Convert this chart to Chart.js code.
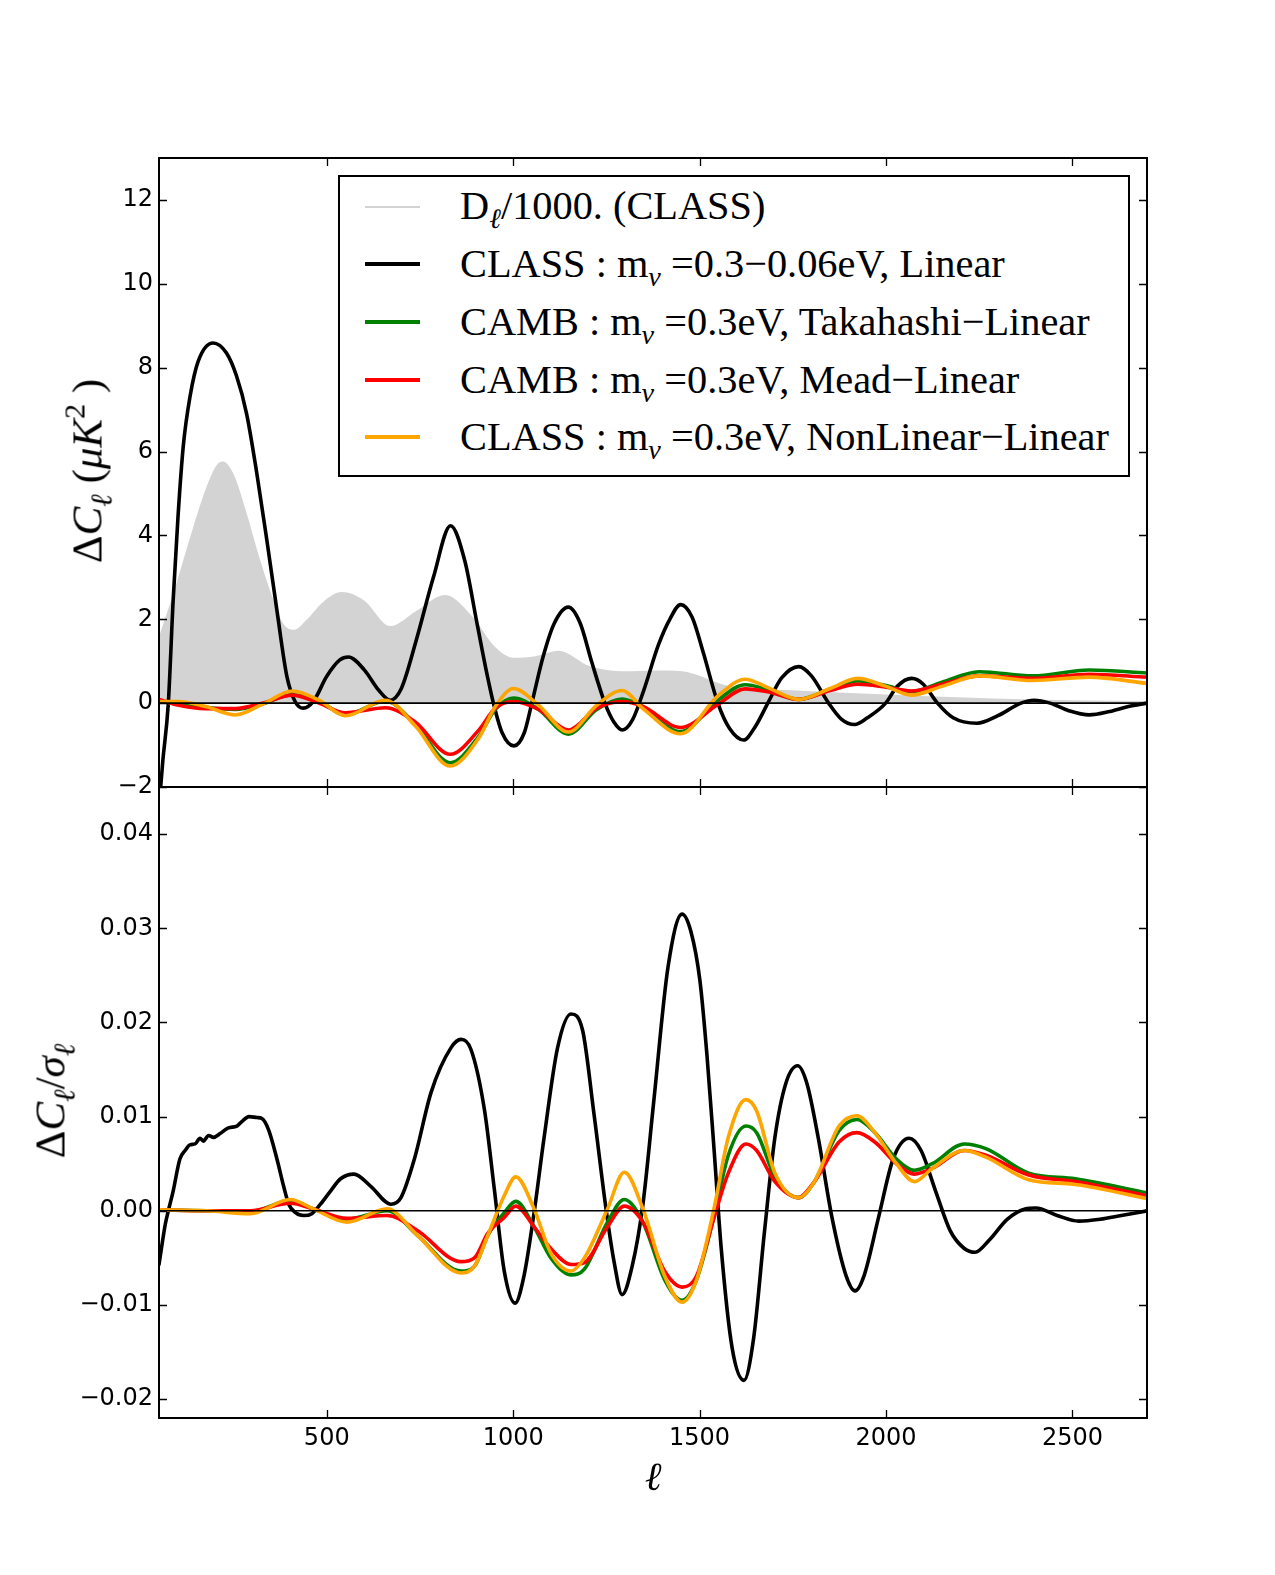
<!DOCTYPE html>
<html>
<head>
<meta charset="utf-8">
<title>Delta C_ell</title>
<script src="https://cdn.jsdelivr.net/npm/chart.js@4.4.0/dist/chart.umd.min.js"></script>
<style>
html,body{margin:0;padding:0;background:#fff;}
#wrap{position:relative;width:1275px;height:1575px;overflow:hidden;background:#fff;}
#wrap canvas{position:absolute;left:0;top:0;}
.serif{font-family:"Liberation Serif","DejaVu Serif",serif;color:#000;position:absolute;white-space:nowrap;line-height:1;}
.serif sub{font-size:0.7em;vertical-align:-0.32em;font-style:italic;line-height:0;}
.serif sup{font-size:0.7em;vertical-align:0.55em;line-height:0;}
.serif i{font-style:italic;}
#legendBox{position:absolute;left:338px;top:175px;width:788px;height:298px;border:2px solid #000;background:#fff;}
.sw{position:absolute;left:365px;width:55px;}
.rot{position:absolute;transform:translate(-50%,-50%) rotate(-90deg);}
</style>
</head>
<body>
<div id="wrap">
  <canvas id="top" width="1275" height="1575"></canvas>
  <canvas id="bot" width="1275" height="1575"></canvas>
  <div id="legendBox"></div>
  <div id="legendRows"></div>
  <div class="serif rot" id="ylabTop" style="left:87px;top:471px;font-size:43px;">Δ<i>C</i><sub>ℓ</sub> (<i>μK</i><sup>2</sup> )</div>
  <div class="serif rot" id="ylabBot" style="left:50px;top:1101px;font-size:43px;">Δ<i>C</i><sub>ℓ</sub>/<i>σ</i><sub>ℓ</sub></div>
  <div class="serif" id="xlab" style="left:653px;top:1477px;font-size:40px;transform:translate(-50%,-50%);"><i>ℓ</i></div>
</div>
<script>
// ---------------- DATA ----------------
const xTicks = [500, 1000, 1500, 2000, 2500];
const topTicks = [-2, 0, 2, 4, 6, 8, 10, 12];
const botTicks = [-0.02, -0.01, 0.00, 0.01, 0.02, 0.03, 0.04];

const legendLabels = [
  'D<sub>ℓ</sub>/1000. (CLASS)',
  'CLASS : m<sub>ν</sub> =0.3−0.06eV, Linear',
  'CAMB : m<sub>ν</sub> =0.3eV, Takahashi−Linear',
  'CAMB : m<sub>ν</sub> =0.3eV, Mead−Linear',
  'CLASS : m<sub>ν</sub> =0.3eV, NonLinear−Linear'
];

// D_ell / 1000 (CLASS) - grey filled area, top panel
const grayL = [50, 88, 115, 142, 178, 205, 221, 249, 285, 321, 357, 383, 412, 446, 491, 540, 600, 670, 740, 817, 893, 947, 1001, 1060, 1121, 1206, 1296, 1377, 1453, 1490, 1560, 1616, 1712, 1810, 1903, 2094, 2287, 2500, 2700];
const grayV = [1.59, 2.6, 3.4, 4.2, 5.17, 5.68, 5.76, 5.48, 4.53, 3.42, 2.46, 1.9, 1.75, 1.99, 2.42, 2.65, 2.45, 1.84, 2.2, 2.58, 2.04, 1.38, 1.08, 1.12, 1.25, 0.88, 0.76, 0.78, 0.76, 0.68, 0.45, 0.37, 0.32, 0.28, 0.24, 0.17, 0.11, 0.07, 0.05];

// CLASS m_nu 0.3-0.06 eV, Linear (black), top panel
const blackTopL = [50, 60, 75, 88, 101, 115, 133, 155, 195, 231, 258, 285, 312, 339, 366, 393, 415, 437, 464, 500, 535, 558, 600, 640, 670, 700, 740, 786, 832, 870, 903, 930, 947, 970, 1002, 1030, 1050, 1080, 1110, 1148, 1180, 1210, 1246, 1270, 1293, 1320, 1350, 1390, 1420, 1449, 1480, 1510, 1549, 1580, 1618, 1650, 1683, 1720, 1766, 1800, 1846, 1880, 1916, 1950, 1999, 2030, 2069, 2100, 2138, 2180, 2244, 2300, 2362, 2397, 2440, 2490, 2545, 2600, 2650, 2700];
const blackTopV = [-2.5, -1.4, 0, 2.46, 4.45, 6.12, 7.3, 8.15, 8.59, 8.35, 7.8, 6.9, 5.5, 3.9, 2.23, 0.64, 0.04, -0.12, 0.04, 0.64, 1.03, 1.10, 0.8, 0.3, 0.07, 0.35, 1.5, 3.0, 4.23, 3.4, 1.9, 0.68, 0, -0.7, -1.02, -0.7, 0, 1.1, 1.9, 2.29, 1.9, 1.0, 0, -0.45, -0.64, -0.4, 0.3, 1.4, 2.0, 2.35, 2.05, 1.2, 0, -0.6, -0.88, -0.55, 0, 0.6, 0.87, 0.65, 0, -0.38, -0.51, -0.35, 0, 0.4, 0.59, 0.45, 0, -0.35, -0.48, -0.3, 0, 0.07, 0, -0.18, -0.28, -0.2, -0.08, 0];

// coloured differences, top panel (shared multipole grid)
const colTopL = [50, 103, 175, 255, 327, 408, 479, 550, 657, 737, 831, 907, 952, 1001, 1068, 1148, 1224, 1292, 1348, 1449, 1549, 1622, 1683, 1766, 1850, 1924, 2000, 2068, 2150, 2250, 2393, 2545, 2700];
const greenTopV  = [0.03, 0.0, -0.1, -0.15, -0.02, 0.2, 0.05, -0.28, 0.05, -0.5, -1.42, -0.8, -0.15, 0.12, -0.15, -0.74, -0.15, 0.1, -0.08, -0.68, 0.07, 0.44, 0.32, 0.09, 0.33, 0.53, 0.42, 0.27, 0.5, 0.75, 0.65, 0.79, 0.72];
const redTopV    = [0.09, -0.05, -0.13, -0.13, 0.0, 0.19, 0.0, -0.23, -0.11, -0.45, -1.22, -0.65, -0.12, 0.04, -0.15, -0.64, -0.12, 0.04, -0.08, -0.58, -0.03, 0.34, 0.27, 0.09, 0.3, 0.45, 0.38, 0.29, 0.45, 0.65, 0.59, 0.69, 0.62];
const orangeTopV = [0.04, 0.04, -0.08, -0.28, -0.03, 0.29, 0.07, -0.3, 0.07, -0.54, -1.5, -0.84, -0.08, 0.35, -0.05, -0.69, -0.05, 0.3, -0.13, -0.73, 0.17, 0.57, 0.37, 0.09, 0.35, 0.59, 0.4, 0.19, 0.4, 0.65, 0.54, 0.62, 0.47];

// bottom panel: Delta C_ell / sigma_ell
const blackBotL = [50, 67, 75, 88, 106, 120, 133, 147, 160, 169, 183, 196, 214, 236, 259, 273, 291, 313, 326, 344, 367, 385, 398, 416, 438, 460, 483, 510, 537, 573, 618, 672, 699, 735, 780, 833, 860, 887, 923, 950, 976, 1005, 1029, 1056, 1083, 1119, 1155, 1186, 1217, 1249, 1271, 1292, 1319, 1348, 1377, 1415, 1453, 1477, 1501, 1520, 1539, 1558, 1587, 1619, 1645, 1673, 1702, 1731, 1763, 1788, 1818, 1855, 1893, 1917, 1941, 1980, 2019, 2062, 2094, 2133, 2172, 2210, 2239, 2277, 2325, 2373, 2402, 2459, 2517, 2574, 2631, 2700];
const blackBotV = [-0.0057, -0.0014, 0, 0.0021, 0.0055, 0.0064, 0.0070, 0.0071, 0.0077, 0.0074, 0.0080, 0.0078, 0.0082, 0.0088, 0.0090, 0.0095, 0.0100, 0.0099, 0.0098, 0.0086, 0.0054, 0.0025, 0.0007, -0.0002, -0.0005, -0.0003, 0.0007, 0.0021, 0.0034, 0.0039, 0.0026, 0.0007, 0.0014, 0.0055, 0.0126, 0.0173, 0.0182, 0.0171, 0.0107, 0.0021, -0.0064, -0.0098, -0.0069, -0.0002, 0.0078, 0.0173, 0.0209, 0.0192, 0.0102, 0.0002, -0.0055, -0.0089, -0.0059, 0.0007, 0.0116, 0.0258, 0.0315, 0.0296, 0.0244, 0.0164, 0.0064, -0.004, -0.0145, -0.018, -0.0135, -0.0026, 0.0078, 0.0135, 0.0154, 0.0135, 0.0078, -0.0007, -0.0069, -0.0085, -0.0069, -0.0007, 0.0055, 0.0077, 0.0064, 0.0021, -0.0021, -0.004, -0.0044, -0.0031, -0.0009, 0.0002, 0.0003, -0.0005, -0.0011, -0.0009, -0.0005, 0];

const colBotL = [50, 178, 295, 402, 464, 554, 662, 743, 860, 896, 932, 976, 1007, 1056, 1101, 1155, 1191, 1253, 1298, 1348, 1406, 1453, 1492, 1539, 1577, 1624, 1653, 1702, 1765, 1808, 1874, 1922, 1970, 2028, 2076, 2124, 2210, 2268, 2383, 2508, 2700];
const greenBotV  = [0.0001, 0, -0.0001, 0.0011, 0.0002, -0.0009, 0, -0.0026, -0.0064, -0.0059, -0.0026, -0.0002, 0.0010, -0.0017, -0.0050, -0.0068, -0.0062, -0.0012, 0.0012, -0.0012, -0.0073, -0.0095, -0.0073, -0.0005, 0.0059, 0.0090, 0.0083, 0.0036, 0.0014, 0.0031, 0.0085, 0.0097, 0.0083, 0.0055, 0.0043, 0.0050, 0.0071, 0.0066, 0.0040, 0.0034, 0.0019];
const redBotV    = [0.0001, 0, 0, 0.0008, 0.0002, -0.0008, -0.0005, -0.0021, -0.0054, -0.0050, -0.0024, -0.0007, 0.0005, -0.0017, -0.0040, -0.0057, -0.0055, -0.0017, 0.0005, -0.0012, -0.0064, -0.0081, -0.0069, -0.0007, 0.0040, 0.0071, 0.0064, 0.0031, 0.0014, 0.0031, 0.0073, 0.0083, 0.0073, 0.0050, 0.0039, 0.0045, 0.0064, 0.0059, 0.0038, 0.0031, 0.0016];
const orangeBotV = [0.0001, 0, -0.0003, 0.0012, 0.0002, -0.0012, 0.0002, -0.0026, -0.0066, -0.0059, -0.0026, 0.0016, 0.0036, 0.0002, -0.0045, -0.0064, -0.0050, 0.0002, 0.0041, 0.0002, -0.0069, -0.0097, -0.0073, 0.0003, 0.0078, 0.0118, 0.0106, 0.0040, 0.0014, 0.0031, 0.0090, 0.0101, 0.0083, 0.0050, 0.0031, 0.0045, 0.0064, 0.0057, 0.0033, 0.0028, 0.0013];

// ---------------- CHART ----------------
const COLORS = {gray:'#d3d3d3', black:'#000000', green:'#008000', red:'#ff0000', orange:'#ffa500'};
const XMIN = 50, XMAX = 2700;
const PLOT = {left:159, right:1147, top:158, mid:787, bottom:1418, W:1275, H:1575};

function pts(L, V){ return L.map((x, i) => ({x: x, y: V[i]})); }
function lineDS(L, V, color){
  return {data: pts(L, V), borderColor: color, borderWidth: 3.6, pointRadius: 0, fill: false,
          cubicInterpolationMode: 'monotone', clip: 0, borderCapStyle:'round', borderJoinStyle:'round'};
}
const minus = s => s.replace('-', '\u2212');

const framePlugin = {
  id: 'frame',
  afterDatasetsDraw(chart){
    const ctx = chart.ctx, a = chart.chartArea, xs = chart.scales.x, ys = chart.scales.y;
    ctx.save();
    const y0 = ys.getPixelForValue(0);
    ctx.strokeStyle = '#000';
    ctx.lineWidth = 1.6;
    ctx.beginPath(); ctx.moveTo(a.left, y0); ctx.lineTo(a.right, y0); ctx.stroke();
    ctx.lineWidth = 1.3;
    ctx.beginPath();
    xTicks.forEach(v => {
      const px = Math.round(xs.getPixelForValue(v)) + 0.5;
      ctx.moveTo(px, a.top); ctx.lineTo(px, a.top + 8);
      ctx.moveTo(px, a.bottom); ctx.lineTo(px, a.bottom - 8);
    });
    ys.ticks.forEach(t => {
      const py = Math.round(ys.getPixelForValue(t.value)) + 0.5;
      ctx.moveTo(a.left, py); ctx.lineTo(a.left + 8, py);
      ctx.moveTo(a.right, py); ctx.lineTo(a.right - 8, py);
    });
    ctx.stroke();
    ctx.lineWidth = 2;
    ctx.strokeRect(a.left, a.top, a.right - a.left, a.bottom - a.top);
    ctx.restore();
  }
};

const tickFont = {family: 'DejaVu Sans', size: 24};

new Chart(document.getElementById('top'), {
  type: 'line',
  data: {datasets: [
    lineDS(colTopL, orangeTopV, COLORS.orange),
    lineDS(colTopL, redTopV, COLORS.red),
    lineDS(colTopL, greenTopV, COLORS.green),
    lineDS(blackTopL, blackTopV, COLORS.black),
    {data: pts(grayL, grayV), borderWidth: 0, borderColor: 'rgba(0,0,0,0)', backgroundColor: COLORS.gray,
     fill: 'origin', pointRadius: 0, cubicInterpolationMode: 'monotone', clip: 0}
  ]},
  options: {
    responsive: false, animation: false, devicePixelRatio: 1,
    layout: {padding: {left: 0, top: PLOT.top, right: PLOT.W - PLOT.right, bottom: PLOT.H - PLOT.mid}},
    plugins: {legend: {display: false}, tooltip: {enabled: false}},
    scales: {
      x: {type: 'linear', min: XMIN, max: XMAX, display: false},
      y: {type: 'linear', min: -2, max: 13,
          afterFit: s => { s.width = PLOT.left; },
          afterBuildTicks: s => { s.ticks = topTicks.map(v => ({value: v})); },
          grid: {display: false, drawTicks: false}, border: {display: false},
          ticks: {padding: 6, font: tickFont, color: '#000', callback: v => minus(String(v))}}
    }
  },
  plugins: [framePlugin]
});

new Chart(document.getElementById('bot'), {
  type: 'line',
  data: {datasets: [
    lineDS(colBotL, orangeBotV, COLORS.orange),
    lineDS(colBotL, redBotV, COLORS.red),
    lineDS(colBotL, greenBotV, COLORS.green),
    lineDS(blackBotL, blackBotV, COLORS.black)
  ]},
  options: {
    responsive: false, animation: false, devicePixelRatio: 1,
    layout: {padding: {left: 0, top: PLOT.mid, right: PLOT.W - PLOT.right, bottom: 0}},
    plugins: {legend: {display: false}, tooltip: {enabled: false}},
    scales: {
      x: {type: 'linear', min: XMIN, max: XMAX,
          afterFit: s => { s.height = PLOT.H - PLOT.bottom; },
          afterBuildTicks: s => { s.ticks = xTicks.map(v => ({value: v})); },
          grid: {display: false, drawTicks: false}, border: {display: false},
          ticks: {padding: 6, font: tickFont, color: '#000', maxRotation: 0, callback: v => String(v)}},
      y: {type: 'linear', min: -0.022, max: 0.045,
          afterFit: s => { s.width = PLOT.left; },
          afterBuildTicks: s => { s.ticks = botTicks.map(v => ({value: v})); },
          grid: {display: false, drawTicks: false}, border: {display: false},
          ticks: {padding: 6, font: tickFont, color: '#000', callback: v => minus(Number(v).toFixed(2))}}
    }
  },
  plugins: [framePlugin]
});

// ---------------- LEGEND (HTML text) ----------------
const legendColors = [COLORS.gray, COLORS.black, COLORS.green, COLORS.red, COLORS.orange];
const rowY = [206.7, 264.3, 322.3, 380, 437.3];
const rowsEl = document.getElementById('legendRows');
const spans = [];
legendLabels.forEach((html, i) => {
  const sw = document.createElement('div');
  sw.className = 'sw';
  const h = i === 0 ? 2 : 4;
  sw.style.top = (rowY[i] - h / 2) + 'px';
  sw.style.height = h + 'px';
  sw.style.background = legendColors[i];
  rowsEl.appendChild(sw);
  const t = document.createElement('div');
  t.className = 'serif';
  t.innerHTML = html;
  t.style.left = '460px';
  rowsEl.appendChild(t);
  spans.push(t);
});
let fs = 36;
spans.forEach(s => s.style.fontSize = fs + 'px');
const w = spans[1].getBoundingClientRect().width;
fs = fs * 545 / w;
spans.forEach((s, i) => {
  s.style.fontSize = fs + 'px';
  s.style.top = (rowY[i] + 13.5 - 0.8375 * fs) + 'px';
});
</script>
</body>
</html>
